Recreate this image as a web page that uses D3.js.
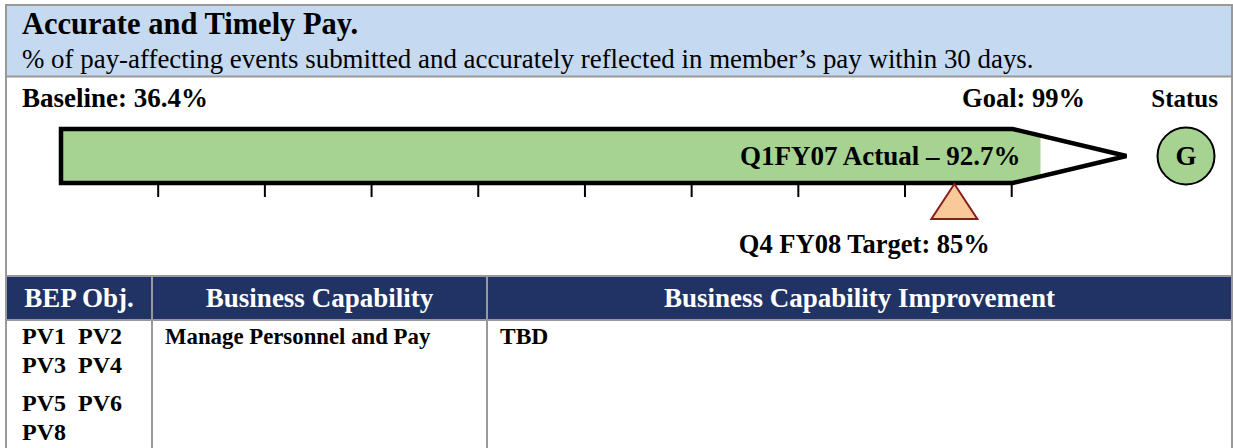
<!DOCTYPE html>
<html>
<head>
<meta charset="utf-8">
<script src="https://cdn.jsdelivr.net/npm/d3@7"></script>
<style>
  body { margin: 0; background: #fff; }
  svg { display: block; font-family: "Liberation Serif", "Times New Roman", serif; }
</style>
</head>
<body>
<div id="chart"></div>
<script>
// Datos del indicador
const title = "Accurate and Timely Pay.";
const subtitle = "% of pay-affecting events submitted and accurately reflected in member\u2019s pay within 30 days.";
const baseline = 36.4;
const goal = 99;
const actual = 92.7;
const target = 85;
const status = "G";
const tickValues = [10, 20, 30, 40, 50, 60, 70, 80, 90];
const actualLabel = "Q1FY07 Actual \u2013 " + actual + "%";
const targetLabel = "Q4 FY08 Target: " + target + "%";

// Tabla
const columns = ["BEP Obj.", "Business Capability", "Business Capability Improvement"];
const objectives = [["PV1", "PV2"], ["PV3", "PV4"], ["PV5", "PV6"], ["PV8"]];
const capabilities = ["Manage Personnel and Pay"];
const improvements = ["TBD"];

const W = 1233, H = 448;
const border = "#999";
const green = "#a6d391";
const navy = "#203364";

const svg = d3.select("#chart").append("svg")
    .attr("width", W)
    .attr("height", H);

// Marco y cabecera
svg.append("rect")
    .attr("x", 6).attr("y", 5)
    .attr("width", 1226).attr("height", 72)
    .attr("fill", "#c5d9f0");

svg.append("text")
    .attr("x", 22).attr("y", 34)
    .style("font-size", "30.5px").style("font-weight", "bold")
    .text(title);

svg.append("text")
    .attr("x", 22).attr("y", 68)
    .style("font-size", "26.9px")
    .text(subtitle);

svg.append("line")
    .attr("x1", 6).attr("x2", 1232).attr("y1", 76.5).attr("y2", 76.5)
    .attr("stroke", border).attr("stroke-width", 2);

// Escala
const x = d3.scaleLinear()
    .domain([0, 100])
    .range([51.5, 1118.4]);

const barTop = 129, barBottom = 183, barMid = (barTop + barBottom) / 2;
const x0 = x(0) + 9.5;
const shoulder = x(90) + 1;
const tip = x(100) + 8;

svg.append("text")
    .attr("x", 22).attr("y", 107)
    .style("font-size", "27px").style("font-weight", "bold")
    .text("Baseline: " + baseline + "%");

svg.append("text")
    .attr("x", 1085).attr("y", 107)
    .attr("text-anchor", "end")
    .style("font-size", "26.5px").style("font-weight", "bold")
    .text("Goal: " + goal + "%");

svg.append("text")
    .attr("x", 1218).attr("y", 107)
    .attr("text-anchor", "end")
    .style("font-size", "25px").style("font-weight", "bold")
    .text("Status");

// Flecha
const arrowPath = `M${x0},${barTop} L${shoulder},${barTop} L${tip},${barMid} L${shoulder},${barBottom} L${x0},${barBottom} Z`;

svg.append("clipPath")
    .attr("id", "arrow-clip")
    .append("path")
    .attr("d", arrowPath);

svg.append("rect")
    .attr("clip-path", "url(#arrow-clip)")
    .attr("x", x0)
    .attr("y", barTop)
    .attr("width", x(actual) - x0)
    .attr("height", barBottom - barTop)
    .attr("fill", green);

svg.append("path")
    .attr("d", arrowPath)
    .attr("fill", "none")
    .attr("stroke", "#000")
    .attr("stroke-width", 4.5)
    .attr("stroke-linejoin", "miter");

// Marcas del eje
svg.selectAll(".tick")
    .data(tickValues)
    .enter()
    .append("line")
    .attr("class", "tick")
    .attr("x1", d => x(d)).attr("x2", d => x(d))
    .attr("y1", barBottom + 2).attr("y2", 197)
    .attr("stroke", "#000")
    .attr("stroke-width", 2);

svg.append("text")
    .attr("x", x(actual) - 20).attr("y", 165)
    .attr("text-anchor", "end")
    .style("font-size", "27px").style("font-weight", "bold")
    .text(actualLabel);

// Objetivo
const tx = x(target) - 4;
svg.append("path")
    .attr("d", `M${tx},${barBottom + 1} L${tx + 23},219 L${tx - 23},219 Z`)
    .attr("fill", "#fac99a")
    .attr("stroke", "#8b1c1c")
    .attr("stroke-width", 2);

svg.append("text")
    .attr("x", tx - 90).attr("y", 253)
    .attr("text-anchor", "middle")
    .style("font-size", "26.5px").style("font-weight", "bold")
    .text(targetLabel);

// Estado
svg.append("circle")
    .attr("cx", 1186).attr("cy", 156).attr("r", 28.5)
    .attr("fill", green)
    .attr("stroke", "#000")
    .attr("stroke-width", 2);

svg.append("text")
    .attr("x", 1186).attr("y", 165)
    .attr("text-anchor", "middle")
    .style("font-size", "27px").style("font-weight", "bold")
    .text(status);

// Tabla
const colEdges = [6, 152, 487, 1232];
const colX = d3.scaleOrdinal().domain(columns).range(colEdges.slice(0, 3));
const colW = c => colEdges[columns.indexOf(c) + 1] - colX(c);

svg.append("rect")
    .attr("x", 6).attr("y", 276)
    .attr("width", 1226).attr("height", 44)
    .attr("fill", navy);

svg.selectAll(".col-head")
    .data(columns)
    .enter()
    .append("text")
    .attr("class", "col-head")
    .attr("x", d => colX(d) + colW(d) / 2)
    .attr("y", 307)
    .attr("text-anchor", "middle")
    .attr("fill", "#fff")
    .style("font-size", "27px").style("font-weight", "bold")
    .text(d => d);

svg.selectAll(".hline")
    .data([276, 320])
    .enter()
    .append("line")
    .attr("x1", 6).attr("x2", 1232)
    .attr("y1", d => d).attr("y2", d => d)
    .attr("stroke", border).attr("stroke-width", 2);

svg.selectAll(".vline")
    .data(colEdges.slice(1, 3))
    .enter()
    .append("line")
    .attr("x1", d => d).attr("x2", d => d)
    .attr("y1", 276).attr("y2", H)
    .attr("stroke", border).attr("stroke-width", 2);

const objY = [344, 373, 411, 440];
svg.selectAll(".obj")
    .data(objectives)
    .enter()
    .append("text")
    .attr("class", "obj")
    .attr("x", 22)
    .attr("y", (d, i) => objY[i])
    .style("font-size", "24px").style("font-weight", "bold")
    .attr("xml:space", "preserve")
    .style("white-space", "pre")
    .text(d => d.join("  "));

svg.selectAll(".cap")
    .data(capabilities)
    .enter()
    .append("text")
    .attr("class", "cap")
    .attr("x", colX(columns[1]) + 13)
    .attr("y", 344)
    .style("font-size", "22.8px").style("font-weight", "bold")
    .text(d => d);

svg.selectAll(".imp")
    .data(improvements)
    .enter()
    .append("text")
    .attr("class", "imp")
    .attr("x", colX(columns[2]) + 13)
    .attr("y", 344)
    .style("font-size", "23.5px").style("font-weight", "bold")
    .text(d => d);

// Borde exterior
svg.append("path")
    .attr("d", `M6,${H} L6,5 L1232,5 L1232,${H}`)
    .attr("fill", "none")
    .attr("stroke", border)
    .attr("stroke-width", 2);
</script>
</body>
</html>
